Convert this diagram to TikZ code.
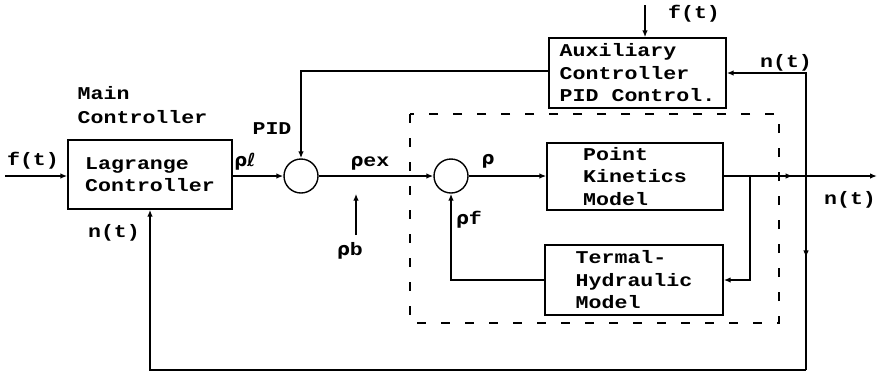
\documentclass[tikz,border=0pt]{standalone}
\usepackage{fontspec}
\setmainfont{Liberation Mono}[FakeStretch=1.2,UprightFont=*,BoldFont=* Bold]
\newfontfamily\grk{DejaVu Sans}
\usetikzlibrary{arrows.meta,decorations.markings}
\begin{document}
\begin{tikzpicture}[x=1pt,y=-1pt,
  line width=1.4pt,
  font=\fontsize{18}{22.5}\selectfont\bfseries,
  arr/.style={-{Latex[length=7pt,width=5.5pt]}},
  blk/.style={draw,align=left,inner sep=0pt},
  sumnode/.style={draw,circle,minimum size=34pt,inner sep=0pt},
  lbl/.style={inner sep=0pt},
  midarr/.style={postaction={decorate,decoration={markings,mark=at position #1 with {\arrow{Latex[length=7pt,width=5.5pt]}}}}}
]
\useasboundingbox (0,0) rectangle (877,376);
% blocks
\node[blk,minimum width=164pt,minimum height=69pt] (lag) at (150,174.5) {Lagrange\\Controller};
\node[blk,minimum width=177pt,minimum height=70pt] (aux) at (637.5,73) {Auxiliary\\Controller\\PID Control.};
\node[blk,minimum width=176pt,minimum height=67pt] (pk) at (635,176.5) {Point\\Kinetics\\Model};
\node[blk,minimum width=178pt,minimum height=70pt] (th) at (634,280) {Termal-\\Hydraulic\\Model};
\node[sumnode] (s1) at (301,176) {};
\node[sumnode] (s2) at (451,176) {};
% dashed region
\draw[dash pattern=on 9pt off 15pt] (410,114) rectangle (779,323);
% coordinates
\coordinate (fin) at (5,176);
\coordinate (pidc) at (301,71);
\coordinate (rb) at (356,235);
\coordinate (out) at (877,176);
\coordinate (br) at (750,176);
\coordinate (jn) at (806,176);
\coordinate (bl) at (806,370);
\coordinate (ft) at (645,5);
% connectors
\draw[arr] (fin) -- (fin -| lag.west);
\draw[arr] (lag.east |- s1.west) -- (s1.west);
\draw[arr] (aux.west |- pidc) -- (pidc) -- (s1.north);
\draw[arr] (s1.east) -- (s2.west);
\draw[arr] (rb) -- (rb |- s1.south);
\draw[arr] (s2.east) -- (s2.east -| pk.west);
\draw[arr,midarr=0.45] (pk.east |- out) -- (out);
\draw[arr] (br) |- (th.east);
\draw[arr] (th.west) -| (s2.south);
\draw[arr] (jn) |- (aux.east);
\draw[midarr=0.42] (jn) -- (bl);
\draw[arr] (bl) -| (lag.south);
\draw[arr] (ft) -- (ft |- aux.north);
% labels
\node[lbl] (lf1) at (33,161) {f(t)};
\node[lbl] (lrl) at (245,162) {{\grk ρℓ}};
\node[lbl,anchor=west] (lmain) at (77,93) {Main};
\node[lbl,anchor=west] (lmc) at (77,117) {Controller};
\node[lbl] (lpid) at (272,129) {PID};
\node[lbl] (lrex) at (370,163) {{\grk ρ}ex};
\node[lbl] (lrb) at (350,251) {{\grk ρ}b};
\node[lbl] (lr) at (488,161) {{\grk ρ}};
\node[lbl] (lrf) at (469,220) {{\grk ρ}f};
\node[lbl] (lnaux) at (786,63) {n(t)};
\node[lbl] (lftop) at (694,14) {f(t)};
\node[lbl] (lnout) at (850,200) {n(t)};
\node[lbl] (lnlag) at (114,233) {n(t)};
\end{tikzpicture}
\end{document}
